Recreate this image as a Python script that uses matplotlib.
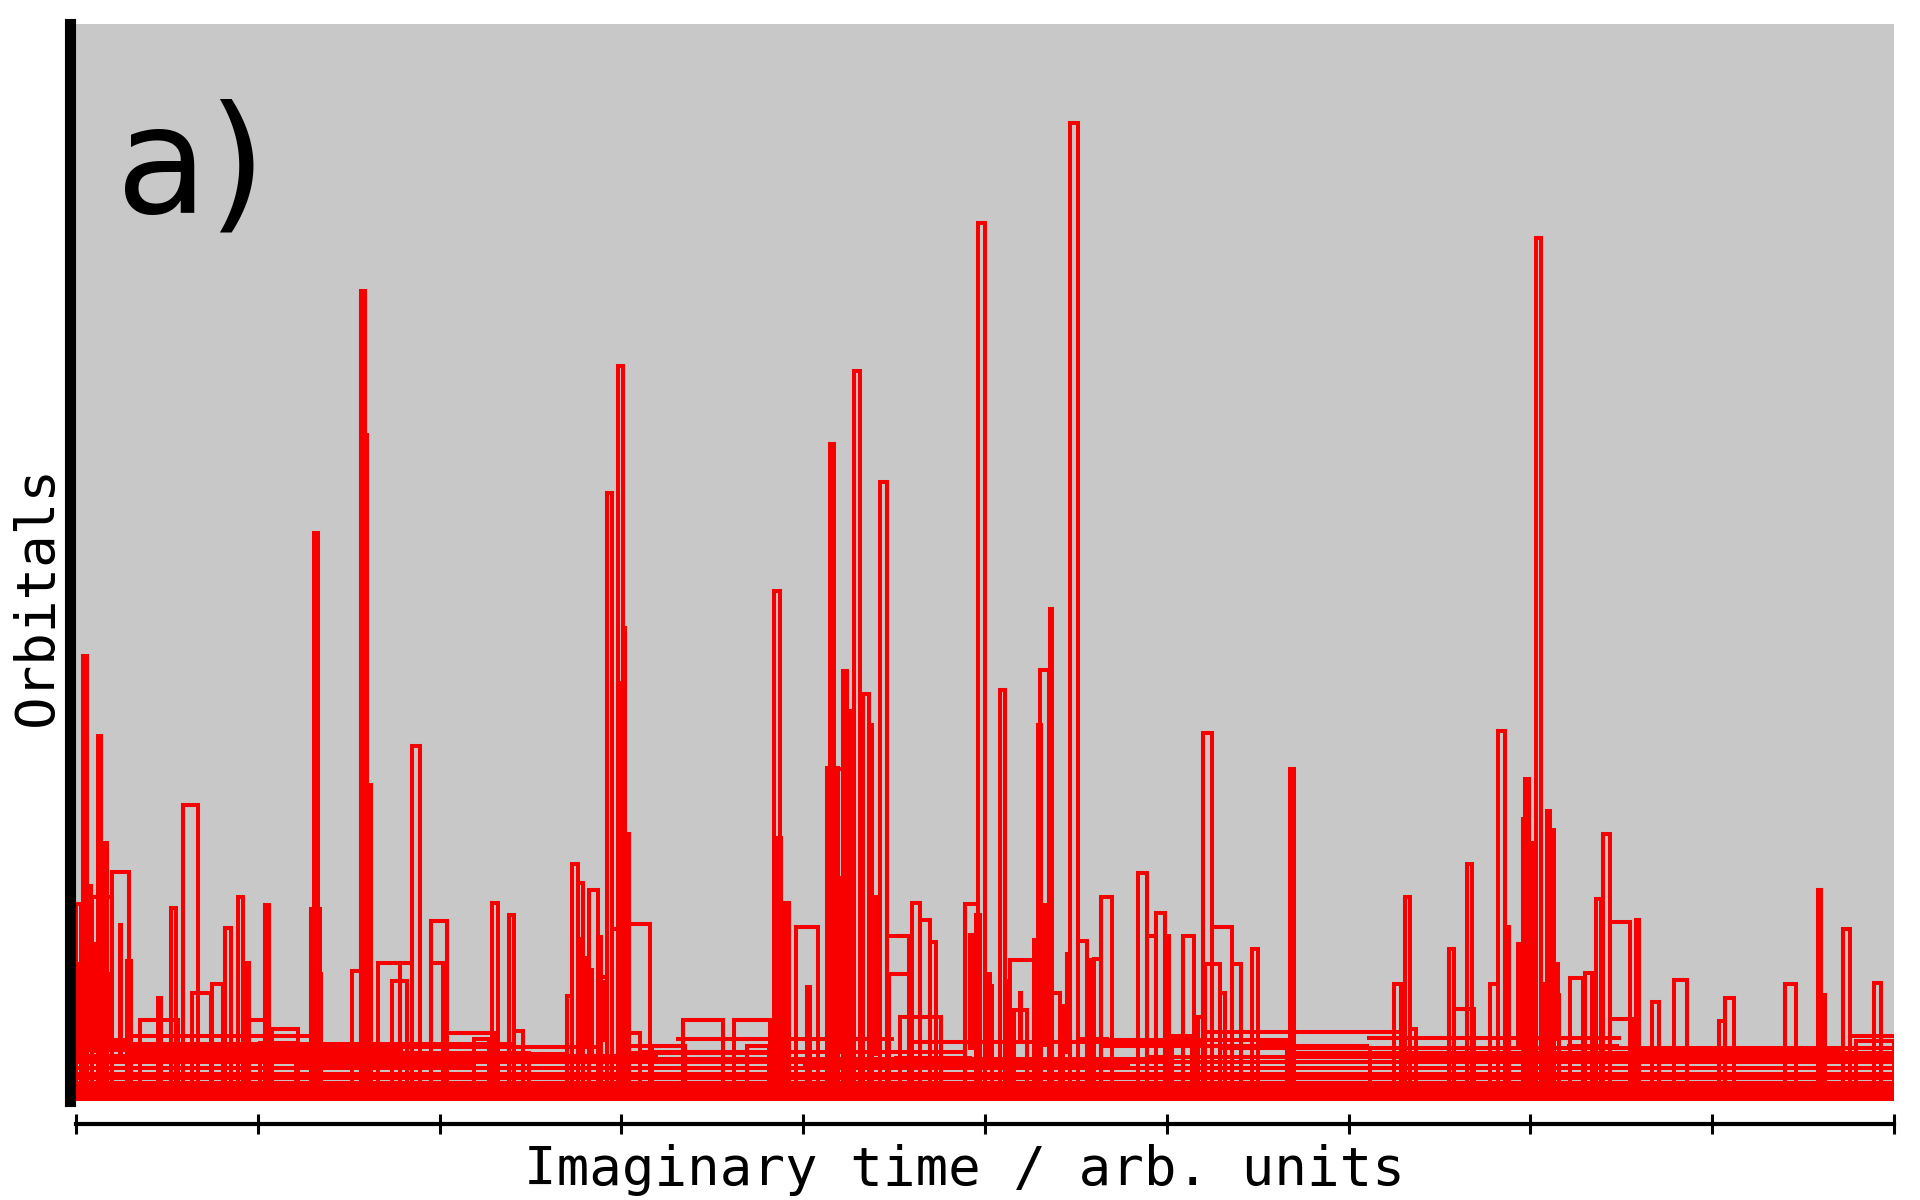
import matplotlib
matplotlib.use("Agg")
import matplotlib.pyplot as plt

# ---- data: excursions of orbital world-lines (imaginary time t in 0..10, orbital level v) ----
pulse_start = [0.00, 0.04, 0.09, 0.12, 0.16, 0.20, 0.28, 0.35, 0.45, 0.52, 0.59, 0.64, 0.75, 0.82, 0.89,
               0.93, 0.95, 1.04, 1.01, 1.08, 1.29, 1.31, 1.34, 1.52, 1.57, 1.59, 1.60, 1.66, 1.74, 1.78,
               1.85, 1.95, 1.95, 2.04, 2.19, 2.29, 2.38, 2.41, 2.49, 2.70, 2.73, 2.76, 2.82, 2.87, 2.89,
               2.92, 2.95, 2.98, 3.01, 2.99, 3.02, 3.04, 3.04, 3.17, 3.34, 3.62, 3.69, 3.84, 3.86, 3.87,
               3.90, 3.96, 4.02, 4.13, 4.15, 4.19, 4.22, 4.25, 4.28, 4.33, 4.37, 4.42, 4.46, 4.47, 4.60,
               4.64, 4.70, 4.53, 4.89, 4.95, 4.96, 5.00, 5.08, 5.11, 5.14, 5.16, 5.27, 5.29, 5.30, 5.36,
               5.37, 5.43, 5.47, 5.51, 5.56, 5.60, 5.64, 5.84, 5.89, 5.94, 5.99, 6.03, 6.09, 6.17, 6.20,
               6.25, 6.21, 6.29, 6.36, 6.47, 6.50, 6.68, 6.66, 7.25, 7.31, 7.34, 7.55, 7.58, 7.65, 7.78,
               7.82, 7.86, 7.96, 7.97, 7.99, 8.03, 8.06, 8.09, 8.11, 8.13, 8.22, 8.30, 8.36, 8.40, 8.44,
               8.44, 8.58, 8.60, 8.67, 8.79, 9.07, 9.04, 9.40, 9.58, 9.60, 9.72, 9.79, 9.89,
               0.02, 0.07, 0.10, 0.18, 0.24, 2.76, 2.80, 2.83, 2.88, 2.90, 4.18, 4.24, 4.26, 4.38, 4.40,
               4.92, 5.02, 5.19, 5.33, 5.45, 7.93, 8.02, 8.14]
pulse_end = [0.03, 0.06, 0.20, 0.14, 0.17, 0.29, 0.30, 0.56, 0.47, 0.55, 0.67, 0.74, 0.81, 0.85, 0.92,
             0.95, 1.04, 1.06, 1.21, 1.22, 1.34, 1.33, 1.35, 1.57, 1.59, 1.60, 1.62, 1.78, 1.82, 1.85,
             1.89, 2.04, 2.02, 2.31, 2.27, 2.32, 2.41, 2.46, 2.70, 2.73, 2.76, 2.79, 2.87, 2.89, 2.92,
             2.95, 2.98, 3.01, 3.02, 3.00, 3.04, 3.16, 3.10, 3.35, 3.56, 3.82, 3.81, 3.87, 3.88, 3.89,
             3.92, 4.08, 4.04, 4.19, 4.17, 4.22, 4.24, 4.27, 4.31, 4.36, 4.38, 4.46, 4.58, 4.59, 4.64,
             4.70, 4.73, 4.76, 4.96, 4.97, 5.00, 5.04, 5.11, 5.12, 5.27, 5.23, 5.29, 5.31, 5.35, 5.37,
             5.41, 5.47, 5.51, 5.56, 5.58, 5.64, 5.70, 5.89, 5.94, 5.99, 6.01, 6.14, 6.15, 6.20, 6.25,
             6.36, 6.29, 6.32, 6.41, 6.50, 6.66, 6.70, 7.12, 7.29, 7.34, 7.37, 7.58, 7.69, 7.68, 7.82,
             7.86, 7.88, 7.97, 7.99, 8.01, 8.06, 8.08, 8.11, 8.13, 8.16, 8.29, 8.34, 8.39, 8.44, 8.55,
             8.57, 8.60, 9.72, 8.71, 8.86, 9.12, 9.07, 9.46, 9.60, 9.62, 9.76, 10.0, 9.93,
             0.03, 0.08, 0.11, 0.19, 0.25, 2.77, 2.81, 2.84, 2.89, 2.91, 4.20, 4.25, 4.27, 4.40, 4.41,
             4.93, 5.03, 5.20, 5.34, 5.46, 7.94, 8.03, 8.15]
pulse_top = [20.1, 45.4, 20.8, 37.3, 26.4, 23.4, 14.3, 8.3, 10.5, 19.7, 30.2, 11.0, 12.0, 17.7, 20.8,
             14.1, 8.3, 20.0, 5.9, 7.4, 19.6, 58.0, 13.0, 13.3, 82.7, 68.0, 32.3, 14.1, 12.3, 14.1,
             36.3, 18.4, 14.1, 6.9, 6.3, 20.2, 19.0, 7.2, 4.8, 10.7, 24.2, 22.3, 21.5, 16.8, 12.7,
             62.1, 17.6, 75.1, 48.3, 42.7, 27.3, 18.1, 6.9, 5.6, 8.3, 8.3, 5.6, 52.1, 26.9, 17.7,
             20.2, 17.8, 11.6, 34.0, 67.1, 33.9, 43.9, 39.8, 74.6, 41.6, 38.4, 63.2, 16.9, 13.0, 20.2,
             18.5, 16.2, 8.6, 20.1, 19.0, 89.7, 11.7, 42.0, 12.3, 14.4, 9.3, 16.4, 38.4, 44.0, 50.2,
             11.0, 9.7, 99.9, 16.3, 14.4, 14.5, 20.8, 23.3, 16.9, 19.2, 16.9, 6.6, 16.9, 8.6, 37.6,
             17.8, 14.0, 11.0, 14.0, 15.5, 5.9, 33.9, 5.4, 12.0, 20.8, 7.4, 15.5, 9.4, 24.2, 12.0,
             37.8, 17.8, 28.8, 32.9, 26.4, 88.1, 12.0, 29.6, 27.7, 10.8, 12.6, 13.1, 20.6, 27.3, 18.3,
             8.4, 18.5, 5.1, 10.1, 12.4, 10.5, 8.2, 11.9, 21.6, 10.8, 17.6, 6.1, 12.1,
             14.0, 22.0, 16.0, 13.0, 18.0, 16.5, 14.6, 13.4, 16.2, 12.2, 22.8, 18.8, 14.5, 20.8, 20.5,
             17.0, 13.0, 11.0, 20.0, 15.0, 16.0, 20.0, 14.0]
pulse_base = [1.0, 0.6, 0.2, 1.4, 1.0, 1.8, 0.6, 0.6, 1.0, 0.2, 1.0, 0.6, 1.0, 0.2, 0.6,
              1.0, 0.2, 1.0, 0.6, 1.0, 0.6, 0.2, 1.0, 0.6, 1.0, 0.2, 0.6, 1.0, 0.2, 0.6,
              1.0, 0.2, 0.6, 1.0, 0.2, 0.6, 1.0, 0.2, 0.6, 1.0, 0.6, 0.2, 1.0, 0.6, 0.2,
              0.6, 1.0, 0.6, 0.2, 1.0, 0.6, 1.0, 0.2, 0.6, 1.0, 0.6, 0.2, 0.6, 1.0, 0.2,
              0.6, 1.0, 0.2, 0.6, 1.0, 0.2, 0.6, 1.0, 0.6, 0.2, 1.0, 0.6, 1.0, 0.2, 0.6,
              1.0, 0.2, 0.6, 1.0, 0.2, 0.6, 1.0, 0.6, 0.2, 1.0, 0.2, 0.6, 1.0, 0.2, 0.6,
              1.0, 0.2, 0.6, 1.0, 0.2, 0.6, 1.0, 0.6, 0.2, 1.0, 0.6, 0.2, 1.0, 0.6, 1.0,
              0.2, 0.6, 1.0, 0.6, 1.0, 0.2, 0.6, 1.0, 0.6, 1.0, 0.2, 0.6, 1.0, 0.2, 0.6,
              1.0, 0.2, 0.6, 1.0, 0.2, 0.6, 1.0, 0.6, 0.2, 1.0, 0.6, 0.2, 1.0, 0.6, 0.2,
              1.0, 0.6, 0.2, 1.0, 0.6, 1.0, 0.2, 0.6, 1.0, 0.2, 0.6, 1.0, 0.2,
              4.2, 5.5, 4.9, 6.2, 4.4, 4.8, 5.6, 4.2, 4.9, 6.0, 5.0, 6.5, 4.4, 5.8, 4.6,
              5.2, 4.4, 6.0, 5.5, 4.8, 5.3, 4.6, 6.1]

# long, low-lying world-lines (start, end, level)
line_start = [0.0, 0.0, 0.0, 0.0, 0.0, 0.0, 0.0, 0.0, 0.0, 0.0, 0.0, 3.1, 2.5, 5.9, 6.3, 9.75,
              0.0, 0.3, 3.3, 4.6, 7.1, 6.2,
              0.0, 0.0, 0.3, 0.0, 3.03, 3.03, 3.40, 4.50, 5.30, 5.50, 5.60, 5.63, 6.62, 6.70,
              8.20, 7.30, 4.00, 1.20]
line_end   = [10., 10., 10., 10., 10., 10., 10., 10., 10., 3.2, 1.8, 4.9, 6.0, 10., 10., 10.,
              2.4, 1.3, 4.5, 6.2, 8.5, 7.3,
              0.30, 2.90, 2.50, 3.00, 3.36, 3.82, 3.82, 4.93, 5.43, 5.68, 6.67, 6.62, 7.11, 10.0,
              8.49, 10.0, 5.80, 2.20]
line_level = [0.2, 0.6, 1.0, 1.4, 1.8, 2.3, 2.8, 3.4, 4.0, 4.6, 5.2, 5.0, 4.3, 4.5, 5.4, 6.6,
              5.8, 6.6, 6.3, 6.0, 6.4, 7.0,
              6.2, 5.5, 4.9, 4.4, 5.6, 4.9, 4.3, 4.4, 6.0, 6.3, 6.2, 5.6, 5.6, 4.9,
              5.6, 4.1, 3.7, 3.7]

xticks = [0, 1, 2, 3, 4, 5, 6, 7, 8, 9, 10]

RED = "#f80000"
GRAY = "#c8c8c8"
LW = 2.9

fig = plt.figure(figsize=(19.2, 12), dpi=100)
ax = fig.add_axes([76 / 1920, 1 - 1101 / 1200, 1818 / 1920, 1077 / 1200])
ax.set_facecolor(GRAY)

for s, e, lv in zip(line_start, line_end, line_level):
    ax.plot([s, e], [lv, lv], color=RED, lw=LW, solid_capstyle="butt")

for s, e, top, b in zip(pulse_start, pulse_end, pulse_top, pulse_base):
    ax.plot([s, s, e, e], [b, top, top, b], color=RED, lw=LW,
            solid_joinstyle="miter", solid_capstyle="butt")

ax.set_xlim(0, 10)
ax.set_ylim(0, 110)
ax.set_xticks(xticks)
ax.set_xticklabels([])
ax.set_yticks([])

for sp in ["top", "right"]:
    ax.spines[sp].set_visible(False)
ax.spines["left"].set_linewidth(8)
ax.spines["left"].set_position(("outward", 4))
ax.spines["bottom"].set_linewidth(3)
ax.spines["bottom"].set_position(("outward", 16.5))
ax.spines["bottom"].set_capstyle("projecting")
ax.tick_params(axis="x", direction="inout", length=15, width=2.2, color="black")

mono = "DejaVu Sans Mono"
ax.set_xlabel("Imaginary time / arb. units", fontsize=39, family=mono)
ax.xaxis.set_label_coords((964 - 76) / 1818, (1101 - 1144) / 1077)
ax.xaxis.label.set_va("top")
ax.set_ylabel("Orbitals", fontsize=39, family=mono)
ax.yaxis.set_label_coords((37 - 76) / 1818, (1101 - 595) / 1077)
ax.yaxis.label.set_va("center")

fig.text(116 / 1920, 1 - 213 / 1200, "a)", fontsize=108, family="DejaVu Sans",
         va="baseline", ha="left")

fig.savefig("out.png", dpi=100)
